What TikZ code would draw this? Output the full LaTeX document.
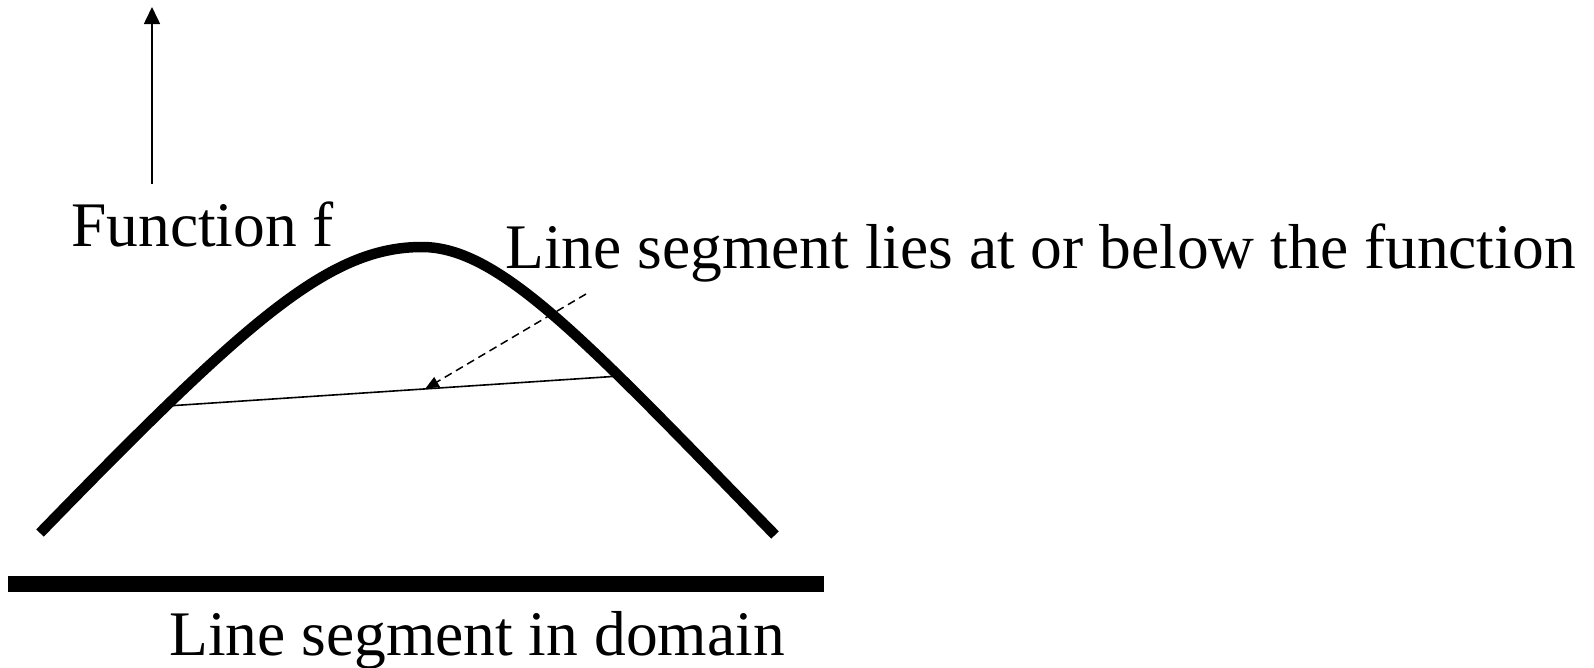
\documentclass[tikz,border=0pt]{standalone}
\usepackage{fontspec}
\setmainfont{Liberation Serif}
\usetikzlibrary{arrows.meta}
\begin{document}
\begin{tikzpicture}[x=1pt,y=-1pt,
  lbl/.style={anchor=base west,inner sep=0pt,font=\fontsize{63.5}{70}\selectfont},
  fcurve/.style={line width=10.5pt},
  domainbar/.style={line width=16pt},
  chord/.style={line width=1.6pt},
  axisarrow/.style={line width=1.6pt,-{Triangle[width=16pt,length=17pt]}},
  pointer/.style={line width=1.5pt,dash pattern=on 8pt off 5pt,-{Triangle[width=11pt,length=14pt]}}]
\useasboundingbox (0,0) rectangle (1594,667);
% axis arrow
\coordinate (axbot) at (152,184);
\coordinate (axtop) at (152,7);
\draw[axisarrow] (axbot) -- (axtop);
% function curve
\coordinate (fl) at (40,533);
\coordinate (fp) at (422,247);
\coordinate (fr) at (775,535);
\draw[fcurve] (fl) .. controls (250,317) and (330,247) .. (fp)
              .. controls (500,247) and (587,342) .. (fr);
% chord
\coordinate (cl) at (167,406);
\coordinate (cr) at (620,376);
\coordinate (cm) at (425,389);
\draw[chord] (cl) -- (cr);
% domain bar
\coordinate (bl) at (8,583.5);
\coordinate (br) at (824,583.5);
\draw[domainbar] (bl) -- (br);
% labels
\node[lbl] (flabel) at (71,246) {Function f};
\node[lbl] (clabel) at (505,268) {Line segment lies at or below the function};
\node[lbl] (dlabel) at (169,655) {Line segment in domain};
% pointer
\coordinate (ps) at (586,294);
\draw[pointer] (ps) -- (cm);
\end{tikzpicture}
\end{document}
